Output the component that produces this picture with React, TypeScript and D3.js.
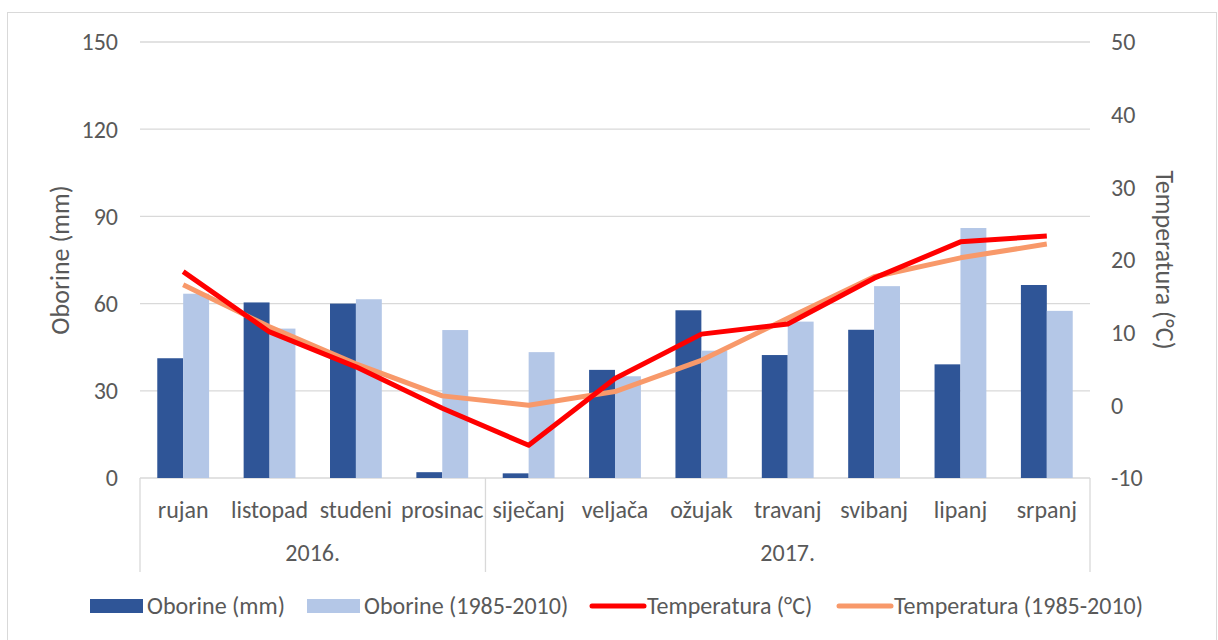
import React from 'react';
import * as d3 from 'd3';

const months = ['rujan', 'listopad', 'studeni', 'prosinac', 'siječanj', 'veljača', 'ožujak', 'travanj', 'svibanj', 'lipanj', 'srpanj'];
const years = [
  { label: '2016.', from: 0, to: 3 },
  { label: '2017.', from: 4, to: 10 },
];
const oborine = [41.2, 60.4, 60.0, 2.0, 1.6, 37.2, 57.7, 42.3, 51.0, 39.1, 66.4];
const oborineAvg = [63.4, 51.4, 61.5, 50.9, 43.3, 35.0, 43.8, 53.8, 66.0, 86.0, 57.5];
const temp = [18.4, 10.1, 5.3, -0.4, -5.5, 3.7, 9.8, 11.2, 17.5, 22.5, 23.3];
const tempAvg = [16.6, 10.8, 5.7, 1.3, 0.0, 1.9, 6.2, 12.0, 17.7, 20.3, 22.2];
const leftTicks = [0, 30, 60, 90, 120, 150];
const rightTicks = [-10, 0, 10, 20, 30, 40, 50];

const W = 1218;
const H = 640;
const plot = { left: 140, right: 1090, top: 42, bottom: 478 };
const FONT = 'Carlito, Lato, sans-serif';
const TXT = '#595959';
const GRID = '#d9d9d9';
const C_DARK = '#2F5597';
const C_LIGHT = '#B4C7E7';
const C_RED = '#FF0000';
const C_ORANGE = '#F8996A';
const FS = 24;

export default function App() {
  const x = d3.scaleBand<string>().domain(months).range([plot.left, plot.right]).paddingInner(0.4).paddingOuter(0.2);
  const sub = d3.scaleBand<string>().domain(['a', 'b']).range([0, x.bandwidth()]);
  const yL = d3.scaleLinear().domain([0, 150]).range([plot.bottom, plot.top]);
  const yR = d3.scaleLinear().domain([-10, 50]).range([plot.bottom, plot.top]);
  const cx = (m: string) => x(m)! + x.bandwidth() / 2;
  const line = d3
    .line<number>()
    .x((_, i) => cx(months[i]))
    .y((d) => yR(d));

  const step = x.step();
  const catEdge = (i: number) => plot.left + i * step;

  const legend = [
    { label: 'Oborine (mm)', color: C_DARK, type: 'rect', x: 90 },
    { label: 'Oborine (1985-2010)', color: C_LIGHT, type: 'rect', x: 307 },
    { label: 'Temperatura (°C)', color: C_RED, type: 'line', x: 590 },
    { label: 'Temperatura (1985-2010)', color: C_ORANGE, type: 'line', x: 837 },
  ];

  return (
    <svg width={W} height={H} style={{ position: 'absolute', left: 0, top: 0, background: '#fff' }} fontFamily={FONT}>
      <rect x={7.5} y={12.5} width={1209} height={640} fill="#fff" stroke={GRID} strokeWidth={1} />

      {/* gridlines */}
      {leftTicks.map((t) => (
        <line key={t} x1={plot.left} x2={plot.right} y1={yL(t)} y2={yL(t)} stroke={GRID} strokeWidth={1.3} />
      ))}

      {/* category axis with groups */}
      {[0, 4, 11].map((i) => (
        <line key={i} x1={catEdge(i)} x2={catEdge(i)} y1={plot.bottom} y2={572} stroke={GRID} strokeWidth={1.3} />
      ))}

      {/* bars */}
      {months.map((m, i) => (
        <g key={m}>
          <rect x={x(m)! + sub('a')!} y={yL(oborine[i])} width={sub.bandwidth()} height={yL(0) - yL(oborine[i])} fill={C_DARK} />
          <rect x={x(m)! + sub('b')!} y={yL(oborineAvg[i])} width={sub.bandwidth()} height={yL(0) - yL(oborineAvg[i])} fill={C_LIGHT} />
        </g>
      ))}

      <path d={line(tempAvg) ?? ''} fill="none" stroke={C_ORANGE} strokeWidth={5} strokeLinejoin="round" />
      <path d={line(temp) ?? ''} fill="none" stroke={C_RED} strokeWidth={5} strokeLinejoin="round" />

      {/* left ticks */}
      {leftTicks.map((t) => (
        <text key={t} x={118} y={yL(t)} dy="0.35em" textAnchor="end" fontSize={FS} fill={TXT}>
          {t}
        </text>
      ))}
      {rightTicks.map((t) => (
        <text key={t} x={1111} y={yR(t)} dy="0.35em" textAnchor="start" fontSize={FS} fill={TXT}>
          {t}
        </text>
      ))}

      {months.map((m) => (
        <text key={m} x={cx(m)} y={510} dy="0.35em" textAnchor="middle" fontSize={FS} fill={TXT}>
          {m}
        </text>
      ))}
      {years.map((g) => (
        <text key={g.label} x={(catEdge(g.from) + catEdge(g.to + 1)) / 2} y={553} dy="0.35em" textAnchor="middle" fontSize={FS} fill={TXT}>
          {g.label}
        </text>
      ))}

      <text transform={`translate(60,260) rotate(-90)`} textAnchor="middle" dy="0.35em" fontSize={26} fill={TXT}>
        Oborine (mm)
      </text>
      <text transform={`translate(1165,260) rotate(90)`} textAnchor="middle" dy="0.35em" fontSize={26} fill={TXT}>
        Temperatura (°C)
      </text>

      {legend.map((l) => (
        <g key={l.label} transform={`translate(${l.x},606)`}>
          {l.type === 'rect' ? (
            <rect x={0} y={-7} width={53} height={14} fill={l.color} />
          ) : (
            <line x1={2} x2={54} y1={0} y2={0} stroke={l.color} strokeWidth={5} strokeLinecap="round" />
          )}
          <text x={57} y={0} dy="0.35em" fontSize={FS} fill={TXT}>
            {l.label}
          </text>
        </g>
      ))}
    </svg>
  );
}
